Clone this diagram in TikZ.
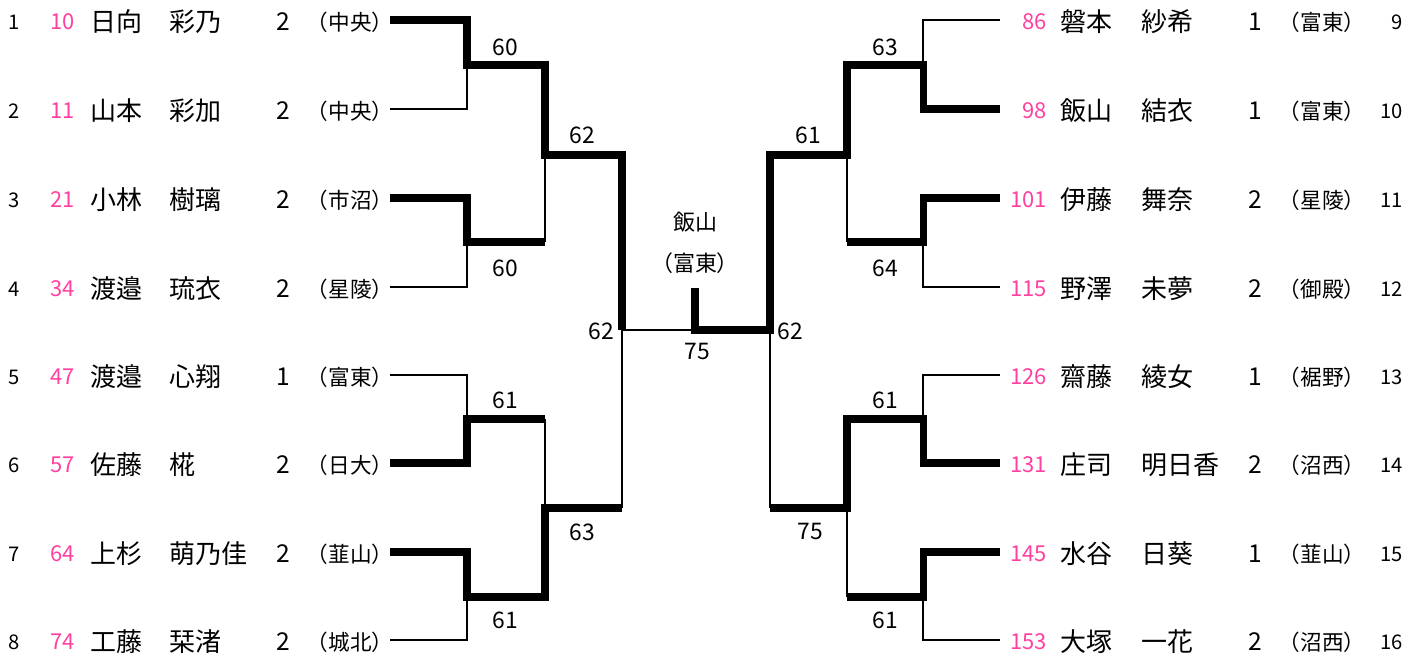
\documentclass[tikz,border=0pt]{standalone}
\usepackage{fontspec}
\setmainfont{Noto Sans CJK JP}
\usepackage{xcolor}
\usepackage{tikz}
\usetikzlibrary{positioning, calc}
\definecolor{rosa}{RGB}{255,64,160}

\begin{document}
\begin{tikzpicture}[
  x=0.02cm, y=-0.02cm,
  seed/.style={font=\fontsize{11.5}{12}\selectfont, inner sep=0pt},
  pk/.style={font=\fontsize{12.5}{13}\selectfont, text=rosa, inner sep=0pt, anchor=east},
  nm/.style={font=\fontsize{14.8}{15}\selectfont, inner sep=0pt, anchor=west},
  gr/.style={font=\fontsize{14}{15}\selectfont, inner sep=0pt},
  sch/.style={font=\fontsize{12.3}{13}\selectfont, inner sep=0pt},
  sc/.style={font=\fontsize{13}{14}\selectfont, inner sep=0pt},
  win/.style={line width=4pt},
  lose/.style={line width=1.1pt}
]
\useasboundingbox (0,0) rectangle (1419,658);

% ── Jugadoras, lado izquierdo ─────────────────────────────────
\foreach \i/\y/\n/\ap/\no/\g/\esc in {
  1/20/10/日向/彩乃/2/中央, 2/109/11/山本/彩加/2/中央,
  3/198/21/小林/樹璃/2/市沼, 4/287/34/渡邉/琉衣/2/星陵,
  5/375/47/渡邉/心翔/1/富東, 6/463/57/佐藤/椛/2/日大,
  7/552/64/上杉/萌乃佳/2/韮山, 8/640/74/工藤/栞渚/2/城北}{
  \node[seed] (s\i) at (14,\y+2) {\i};
  \node[pk] (p\i) at (75,\y+2) {\n};
  \node[nm] (a\i) at (90,\y+2) {\ap};
  \node[nm] (b\i) at (169,\y+2) {\no};
  \node[gr] (g\i) at (283,\y+2) {\g};
  \node[sch] (e\i) at (350,\y+2) {（\esc）};
  \coordinate (l\i) at (390,\y);
}

% ── Jugadoras, lado derecho ───────────────────────────────────
\foreach \i/\y/\n/\ap/\no/\g/\esc in {
  9/20/86/磐本/紗希/1/富東, 10/109/98/飯山/結衣/1/富東,
  11/198/101/伊藤/舞奈/2/星陵, 12/287/115/野澤/未夢/2/御殿,
  13/375/126/齋藤/綾女/1/裾野, 14/463/131/庄司/明日香/2/沼西,
  15/552/145/水谷/日葵/1/韮山, 16/640/153/大塚/一花/2/沼西}{
  \node[pk] (p\i) at (1047,\y+2) {\n};
  \node[nm] (a\i) at (1060,\y+2) {\ap};
  \node[nm] (b\i) at (1141,\y+2) {\no};
  \node[gr] (g\i) at (1255,\y+2) {\g};
  \node[sch] (e\i) at (1322,\y+2) {（\esc）};
  \node[seed, anchor=east] (s\i) at (1403,\y+2) {\i};
  \coordinate (r\i) at (1000,\y);
}

% ── Puntos de cruce ───────────────────────────────────────────
\coordinate (j1) at (467,65);  \coordinate (j2) at (467,242);
\coordinate (j3) at (467,419); \coordinate (j4) at (467,597);
\coordinate (j5) at (923,65);  \coordinate (j6) at (923,242);
\coordinate (j7) at (923,419); \coordinate (j8) at (923,597);
\coordinate (k1) at (545,155); \coordinate (k2) at (545,508);
\coordinate (k3) at (847,155); \coordinate (k4) at (847,508);
\coordinate (f1) at (622,330); \coordinate (f2) at (770,330);
\coordinate (c0) at (695,330); \coordinate (cc) at (695,288);

% ── Líneas perdedoras (finas) ─────────────────────────────────
\draw[lose] (l2) -| (j1);
\draw[lose] (l4) -| (j2);
\draw[lose] (j2 -| k1) -- (k1);
\draw[lose] (l5) -| (j3);
\draw[lose] (l8) -| (j4);
\draw[lose] (j3 -| k2) -- (k2);
\draw[lose] (k2 -| f1) -- (f1) -- (c0);
\draw[lose] (r9) -| (j5);
\draw[lose] (r12) -| (j6);
\draw[lose] (j6 -| k3) -- (k3);
\draw[lose] (r13) -| (j7);
\draw[lose] (r16) -| (j8);
\draw[lose] (j8 -| k4) -- (k4);
\draw[lose] (k4 -| f2) -- (f2);

% ── Líneas ganadoras (gruesas) ────────────────────────────────
\draw[win] (l1) -| (j1) -| (k1) -| (f1);
\draw[win] (l3) -| (j2) -- (j2 -| k1);
\draw[win] (l6) -| (j3) -- (j3 -| k2);
\draw[win] (l7) -| (j4) -| (k2) -- (k2 -| f1);
\draw[win] (r10) -| (j5) -| (k3) -| (f2) -- (c0) -- (cc);
\draw[win] (r11) -| (j6) -- (j6 -| k3);
\draw[win] (r14) -| (j7) -| (k4) -- (k4 -| f2);
\draw[win] (r15) -| (j8) -- (j8 -| k4);

% ── Marcadores ────────────────────────────────────────────────
\node[sc] (m1) at (505,47)  {60};
\node[sc] (m2) at (505,268) {60};
\node[sc] (m3) at (505,400) {61};
\node[sc] (m4) at (505,620) {61};
\node[sc] (m5) at (582,135) {62};
\node[sc] (m6) at (582,532) {63};
\node[sc] (m7) at (601,331) {62};
\node[sc] (m8) at (697,352) {75};
\node[sc] (m9)  at (885,47)  {63};
\node[sc] (m10) at (885,268) {64};
\node[sc] (m11) at (885,400) {61};
\node[sc] (m12) at (885,620) {61};
\node[sc] (m13) at (808,135) {61};
\node[sc] (m14) at (810,532) {75};
\node[sc] (m15) at (790,331) {62};

% ── Campeona ──────────────────────────────────────────────────
\node[sch, font=\fontsize{12.5}{13}\selectfont] (campeona) at (695,222) {飯山};
\node[sch, font=\fontsize{12.5}{13}\selectfont] (escuela) at (695,263) {（富東）};

\end{tikzpicture}
\end{document}
